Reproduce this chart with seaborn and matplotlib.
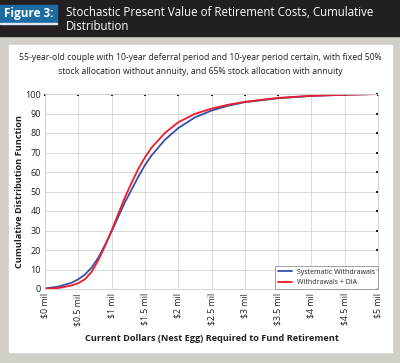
import pandas as pd
import matplotlib.pyplot as plt
import matplotlib.patches as mpatches
import seaborn as sns

# Data (nest egg in $ mil, cumulative %)

nest_egg = [0, 0.2, 0.4, 0.5, 0.6, 0.7, 0.8, 0.9, 1.0, 1.1, 1.2, 1.3, 1.4, 1.5,
            1.6, 1.8, 2.0, 2.25, 2.5, 2.75, 3.0, 3.5, 4.0, 4.5, 5.0]
systematic = [0.3, 1.2, 3.2, 5.0, 7.4, 11.0, 16.0, 22.5, 29.5, 37.0, 44.5, 51, 57.5, 63.5,
              68.5, 76.5, 82.5, 88, 91.5, 94, 95.8, 97.8, 99, 99.6, 100]
with_dia = [0.1, 0.5, 1.8, 3.0, 5.0, 8.8, 14.8, 22, 30, 38.5, 47, 54.5, 61.5, 67.5,
            72.5, 80, 85.5, 89.8, 92.5, 94.5, 96, 98, 99.1, 99.6, 100]
series_names = ["Systematic Withdrawals", "Withdrawals + DIA"]
x_ticks = [0, 0.5, 1, 1.5, 2, 2.5, 3, 3.5, 4, 4.5, 5]
x_tick_labels = ["$0 mil", "$0.5 mil", "$1 mil", "$1.5 mil", "$2 mil", "$2.5 mil",
                 "$3 mil", "$3.5 mil", "$4 mil", "$4.5 mil", "$5 mil"]
y_ticks = list(range(0, 101, 10))

df = pd.DataFrame({
    "x": nest_egg * 2,
    "y": systematic + with_dia,
    "series": [series_names[0]] * len(nest_egg) + [series_names[1]] * len(nest_egg),
})

sns.set_style("white")
plt.rcParams["font.family"] = ["Open Sans", "DejaVu Sans"]

fig = plt.figure(figsize=(4, 3.63), dpi=100)
fig.patch.set_facecolor("#d2cec8")

# header band + white panel
fig.patches.append(mpatches.Rectangle((0, 1 - 36 / 363), 1, 36 / 363, transform=fig.transFigure,
                                      color="#231f20", zorder=0))
fig.patches.append(mpatches.Rectangle((0, 1 - 22 / 363), 57 / 400, 17 / 363, transform=fig.transFigure,
                                      color="#1d6ba3", zorder=1))
fig.patches.append(mpatches.Rectangle((0, 1 - 24 / 363), 57 / 400, 1.5 / 363, transform=fig.transFigure,
                                      color="#dfe8f0", zorder=1))
fig.patches.append(mpatches.Rectangle((9 / 400, 1 - 352 / 363), 383 / 400, 307 / 363,
                                      transform=fig.transFigure, color="white", zorder=0))

fig.text(4 / 400, 1 - 14 / 363, "Figure 3:", color="white", fontsize=8.5, fontweight="bold",
         va="center", ha="left")
fig.text(66 / 400, 1 - 13 / 363, "Stochastic Present Value of Retirement Costs, Cumulative",
         color="white", fontsize=8.3, va="center", ha="left")
fig.text(66 / 400, 1 - 27 / 363, "Distribution", color="white", fontsize=8.3, va="center", ha="left")

fig.text(200 / 400, 1 - 57 / 363,
         "55-year-old couple with 10-year deferral period and 10-year period certain, with fixed 50%",
         color="#231f20", fontsize=6.2, ha="center", va="center")
fig.text(200 / 400, 1 - 72 / 363, "stock allocation without annuity, and 65% stock allocation with annuity",
         color="#231f20", fontsize=6.2, ha="center", va="center")

ax = fig.add_axes([45 / 400, 1 - 289 / 363, 333 / 400, 195 / 363])
ax.set_zorder(3)
sns.lineplot(data=df, x="x", y="y", hue="series", palette=["#3a4ea6", "#ec1c2b"],
             linewidth=1.3, ax=ax)

ax.set_xlim(0, 5)
ax.set_ylim(0, 100)
ax.set_xticks(x_ticks)
ax.set_xticklabels(x_tick_labels, rotation=90, fontsize=6.3, color="#231f20")
ax.set_yticks(y_ticks)
ax.set_yticklabels(y_ticks, fontsize=6.5, color="#231f20")
ax.tick_params(direction="in", length=1.5, width=1.5, color="#231f20",
               top=True, right=True, pad=3)
ax.grid(True, color="#d4d4d4", linewidth=0.6)
for s in ax.spines.values():
    s.set_color("#cfcfcf")
    s.set_linewidth(0.6)

ax.set_xlabel("Current Dollars (Nest Egg) Required to Fund Retirement", fontsize=6.6,
              fontweight="bold", color="#231f20", labelpad=6)
ax.set_ylabel("Cumulative Distribution Function", fontsize=6.6, fontweight="bold",
              color="#231f20", labelpad=1)

leg = ax.legend(loc="lower right", fontsize=5.0, frameon=True, fancybox=False,
                borderpad=0.4, handlelength=2.0, borderaxespad=0)
leg.get_frame().set_edgecolor("#8a8a8a")
leg.get_frame().set_linewidth(0.7)

plt.savefig("out.png", dpi=100, facecolor=fig.get_facecolor())
